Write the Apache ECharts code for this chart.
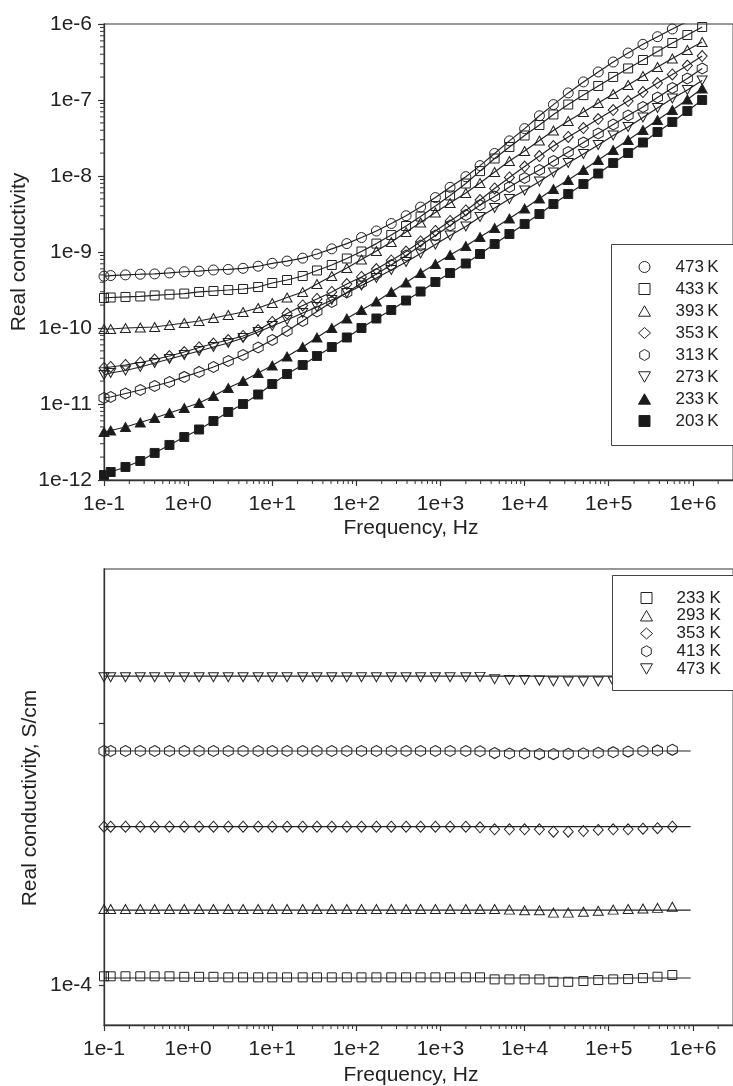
<!DOCTYPE html>
<html>
<head>
<meta charset="utf-8">
<title>Real conductivity vs frequency</title>
<script src="https://cdn.jsdelivr.net/npm/echarts@6.0.0/dist/echarts.min.js"></script>
<style>
html,body{margin:0;padding:0;background:#ffffff;}
#chart{width:733px;height:1086px;}
</style>
</head>
<body>
<div id="chart"></div>
<script>
// ---------------- DATA ----------------
// Frequencies (Hz) of the measured points
const freqTop = [0.1, 0.12, 0.18, 0.27, 0.4, 0.6, 0.9, 1.35, 2, 3, 4.5, 6.8, 10, 15, 23, 34, 51, 77, 115, 173, 260, 390, 580, 870, 1300, 2000, 2950, 4400, 6600, 10000, 15000, 22000, 33000, 50000, 75000, 113000, 170000, 255000, 380000, 570000, 860000, 1290000];
const freqBottom = [0.1, 0.12, 0.18, 0.27, 0.4, 0.6, 0.9, 1.35, 2, 3, 4.5, 6.8, 10, 15, 23, 34, 51, 77, 115, 173, 260, 390, 580, 870, 1300, 2000, 2950, 4400, 6600, 10000, 15000, 22000, 33000, 50000, 75000, 113000, 170000, 255000, 380000, 570000];

// Top panel: real conductivity per temperature
const topLabels = ['473\u2009K', '433\u2009K', '393\u2009K', '353\u2009K', '313\u2009K', '273\u2009K', '233\u2009K', '203\u2009K'];
const c473 = [4.8e-10, 4.9e-10, 5.0e-10, 5.1e-10, 5.15e-10, 5.3e-10, 5.5e-10, 5.6e-10, 5.8e-10, 5.9e-10, 6.1e-10, 6.5e-10, 7.1e-10, 7.6e-10, 8.3e-10, 9.4e-10, 1.1e-9, 1.29e-9, 1.55e-9, 1.89e-9, 2.37e-9, 3.0e-9, 3.9e-9, 5.2e-9, 7.1e-9, 9.8e-9, 1.37e-8, 1.98e-8, 2.9e-8, 4.2e-8, 6.2e-8, 8.7e-8, 1.24e-7, 1.73e-7, 2.34e-7, 3.16e-7, 4.15e-7, 5.4e-7, 6.8e-7, 8.6e-7, 1.08e-6, 1.33e-6];
const c433 = [2.48e-10, 2.52e-10, 2.56e-10, 2.60e-10, 2.68e-10, 2.76e-10, 2.84e-10, 2.98e-10, 3.07e-10, 3.16e-10, 3.26e-10, 3.46e-10, 3.91e-10, 4.28e-10, 4.83e-10, 5.71e-10, 6.75e-10, 8.21e-10, 1.015e-9, 1.29e-9, 1.67e-9, 2.20e-9, 2.93e-9, 4.03e-9, 5.54e-9, 7.96e-9, 1.16e-8, 1.70e-8, 2.41e-8, 3.41e-8, 4.69e-8, 6.45e-8, 8.72e-8, 1.16e-7, 1.53e-7, 2.01e-7, 2.60e-7, 3.36e-7, 4.35e-7, 5.62e-7, 7.17e-7, 9.13e-7];
const c393 = [9.70e-11, 9.70e-11, 1.0e-10, 1.015e-10, 1.03e-10, 1.095e-10, 1.163e-10, 1.236e-10, 1.354e-10, 1.483e-10, 1.623e-10, 1.833e-10, 2.13e-10, 2.52e-10, 2.98e-10, 3.79e-10, 4.83e-10, 6.16e-10, 7.96e-10, 1.03e-9, 1.354e-9, 1.833e-9, 2.44e-9, 3.31e-9, 4.41e-9, 5.97e-9, 8.09e-9, 1.13e-8, 1.575e-8, 2.13e-8, 2.93e-8, 3.97e-8, 5.29e-8, 6.95e-8, 9.13e-8, 1.20e-7, 1.575e-7, 2.07e-7, 2.72e-7, 3.52e-7, 4.55e-7, 5.80e-7];
const c353 = [2.98e-11, 3.07e-11, 3.26e-11, 3.52e-11, 3.85e-11, 4.28e-11, 4.83e-11, 5.54e-11, 6.25e-11, 6.95e-11, 7.85e-11, 9.41e-11, 1.20e-10, 1.55e-10, 1.98e-10, 2.41e-10, 2.98e-10, 3.79e-10, 4.69e-10, 5.97e-10, 7.73e-10, 1.015e-9, 1.375e-9, 1.89e-9, 2.56e-9, 3.52e-9, 4.83e-9, 6.85e-9, 9.56e-9, 1.33e-8, 1.83e-8, 2.48e-8, 3.26e-8, 4.28e-8, 5.62e-8, 7.38e-8, 9.70e-8, 1.27e-7, 1.67e-7, 2.17e-7, 2.84e-7, 3.79e-7];
const c313 = [1.20e-11, 1.236e-11, 1.375e-11, 1.528e-11, 1.725e-11, 1.948e-11, 2.27e-11, 2.64e-11, 3.07e-11, 3.68e-11, 4.41e-11, 5.54e-11, 6.95e-11, 9.13e-11, 1.236e-10, 1.648e-10, 2.20e-10, 2.93e-10, 3.91e-10, 5.14e-10, 6.75e-10, 8.99e-10, 1.218e-9, 1.648e-9, 2.23e-9, 3.07e-9, 4.15e-9, 5.37e-9, 7.17e-9, 9.41e-9, 1.20e-8, 1.575e-8, 2.07e-8, 2.76e-8, 3.62e-8, 4.76e-8, 6.25e-8, 8.09e-8, 1.078e-7, 1.438e-7, 1.918e-7, 2.60e-7];
const c273 = [2.41e-11, 2.56e-11, 2.76e-11, 3.07e-11, 3.46e-11, 3.91e-11, 4.41e-11, 4.98e-11, 5.62e-11, 6.35e-11, 7.38e-11, 8.86e-11, 1.062e-10, 1.274e-10, 1.575e-10, 1.89e-10, 2.34e-10, 2.89e-10, 3.62e-10, 4.55e-10, 5.80e-10, 7.38e-10, 9.56e-10, 1.256e-9, 1.648e-9, 2.17e-9, 2.89e-9, 3.79e-9, 4.98e-9, 6.45e-9, 8.46e-9, 1.112e-8, 1.483e-8, 1.948e-8, 2.56e-8, 3.41e-8, 4.41e-8, 5.88e-8, 7.85e-8, 1.046e-7, 1.354e-7, 1.805e-7];
const c233 = [4.28e-12, 4.48e-12, 4.98e-12, 5.71e-12, 6.54e-12, 7.61e-12, 8.86e-12, 1.03e-11, 1.274e-11, 1.623e-11, 2.01e-11, 2.56e-11, 3.21e-11, 4.22e-11, 5.62e-11, 7.50e-11, 1.0e-10, 1.334e-10, 1.725e-10, 2.23e-10, 2.98e-10, 3.97e-10, 5.29e-10, 6.95e-10, 9.13e-10, 1.20e-9, 1.575e-9, 2.07e-9, 2.76e-9, 3.73e-9, 5.06e-9, 6.75e-9, 8.86e-9, 1.20e-8, 1.623e-8, 2.20e-8, 2.98e-8, 4.03e-8, 5.45e-8, 7.38e-8, 1.015e-7, 1.417e-7];
const c203 = [1.163e-12, 1.274e-12, 1.483e-12, 1.778e-12, 2.27e-12, 2.89e-12, 3.68e-12, 4.62e-12, 5.97e-12, 7.85e-12, 1.0e-11, 1.334e-11, 1.833e-11, 2.48e-11, 3.26e-11, 4.28e-11, 5.62e-11, 7.50e-11, 1.0e-10, 1.334e-10, 1.725e-10, 2.30e-10, 3.02e-10, 4.03e-10, 5.29e-10, 7.06e-10, 9.41e-10, 1.274e-9, 1.725e-9, 2.34e-9, 3.16e-9, 4.28e-9, 5.80e-9, 7.85e-9, 1.078e-8, 1.483e-8, 2.01e-8, 2.76e-8, 3.79e-8, 5.14e-8, 7.17e-8, 1.0e-7];

// Bottom panel: real conductivity (S/cm) per temperature
const bottomLabels = ['233 K', '293 K', '353 K', '413 K', '473 K'];
const b233 = [1.08e-4, 1.08e-4, 1.08e-4, 1.08e-4, 1.08e-4, 1.08e-4, 1.075e-4, 1.075e-4, 1.075e-4, 1.07e-4, 1.07e-4, 1.07e-4, 1.07e-4, 1.07e-4, 1.07e-4, 1.07e-4, 1.07e-4, 1.07e-4, 1.07e-4, 1.07e-4, 1.07e-4, 1.07e-4, 1.07e-4, 1.07e-4, 1.07e-4, 1.07e-4, 1.07e-4, 1.051e-4, 1.051e-4, 1.051e-4, 1.051e-4, 1.029e-4, 1.029e-4, 1.036e-4, 1.045e-4, 1.051e-4, 1.054e-4, 1.063e-4, 1.076e-4, 1.092e-4];
const b293 = [1.95e-4, 1.95e-4, 1.95e-4, 1.95e-4, 1.95e-4, 1.95e-4, 1.95e-4, 1.95e-4, 1.95e-4, 1.95e-4, 1.95e-4, 1.95e-4, 1.95e-4, 1.95e-4, 1.95e-4, 1.95e-4, 1.95e-4, 1.95e-4, 1.95e-4, 1.95e-4, 1.95e-4, 1.95e-4, 1.95e-4, 1.95e-4, 1.95e-4, 1.95e-4, 1.95e-4, 1.95e-4, 1.94e-4, 1.93e-4, 1.93e-4, 1.89e-4, 1.89e-4, 1.905e-4, 1.92e-4, 1.94e-4, 1.95e-4, 1.96e-4, 1.97e-4, 1.99e-4];
const b353 = [4.02e-4, 4.02e-4, 4.02e-4, 4.02e-4, 4.02e-4, 4.02e-4, 4.02e-4, 4.02e-4, 4.02e-4, 4.02e-4, 4.02e-4, 4.02e-4, 4.02e-4, 4.02e-4, 4.02e-4, 4.02e-4, 4.02e-4, 4.02e-4, 4.02e-4, 4.02e-4, 4.02e-4, 4.02e-4, 4.02e-4, 4.02e-4, 4.02e-4, 4.02e-4, 4.0e-4, 3.93e-4, 3.93e-4, 3.93e-4, 3.93e-4, 3.85e-4, 3.85e-4, 3.87e-4, 3.91e-4, 3.93e-4, 3.93e-4, 3.95e-4, 3.97e-4, 4.02e-4];
const b413 = [7.82e-4, 7.82e-4, 7.82e-4, 7.82e-4, 7.82e-4, 7.82e-4, 7.82e-4, 7.82e-4, 7.82e-4, 7.82e-4, 7.82e-4, 7.82e-4, 7.82e-4, 7.82e-4, 7.82e-4, 7.82e-4, 7.82e-4, 7.82e-4, 7.82e-4, 7.82e-4, 7.82e-4, 7.82e-4, 7.82e-4, 7.82e-4, 7.82e-4, 7.82e-4, 7.80e-4, 7.68e-4, 7.65e-4, 7.65e-4, 7.61e-4, 7.61e-4, 7.63e-4, 7.66e-4, 7.70e-4, 7.74e-4, 7.78e-4, 7.82e-4, 7.86e-4, 7.90e-4];
const b473 = [1.495e-3, 1.495e-3, 1.495e-3, 1.495e-3, 1.495e-3, 1.495e-3, 1.495e-3, 1.495e-3, 1.495e-3, 1.495e-3, 1.495e-3, 1.495e-3, 1.495e-3, 1.495e-3, 1.495e-3, 1.495e-3, 1.495e-3, 1.495e-3, 1.495e-3, 1.495e-3, 1.495e-3, 1.495e-3, 1.495e-3, 1.495e-3, 1.495e-3, 1.495e-3, 1.50e-3, 1.469e-3, 1.459e-3, 1.459e-3, 1.452e-3, 1.44e-3, 1.44e-3, 1.44e-3, 1.44e-3, 1.44e-3, 1.45e-3, 1.46e-3, 1.47e-3, 1.48e-3];
// Fitted (constant) levels drawn as solid lines in the bottom panel
const fitLevels = [1.064e-4, 1.932e-4, 4.02e-4, 7.82e-4, 1.511e-3];
const fitFreqRange = [0.1, 940000];

// Axis ranges / ticks
const xMin = 0.1, xMax = 3e6;
const topYMin = 1e-12, topYMax = 1e-6;
const botYMin = 7.04e-5, botYMax = 3.87e-3;
const xDecades = [0.1, 1, 10, 100, 1000, 10000, 100000, 1000000];
const topYDecades = [1e-12, 1e-11, 1e-10, 1e-9, 1e-8, 1e-7];
const botYLabelValues = [1e-4];

// ---------------- CHART ----------------
const FONT = "'Liberation Sans', Arial, Helvetica, sans-serif";
const INK = '#222';

const SYM = {
  circle:   { s: 'circle', l: 'circle', size: 10 },
  square:   { s: 'rect', l: 'path://M0,0H10V10H0Z', size: 9 },
  triangle: { s: 'triangle', l: 'path://M5,0L10,8.7L0,8.7Z', size: [10, 9] },
  diamond:  { s: 'diamond', l: 'path://M6,0L12,5.5L6,11L0,5.5Z', size: [10, 11] },
  hexagon:  { s: 'path://M5,0L9.33,2.5L9.33,7.5L5,10L0.67,7.5L0.67,2.5Z', l: 'path://M5,0L9.33,2.5L9.33,7.5L5,10L0.67,7.5L0.67,2.5Z', size: [10, 11] },
  downTri:  { s: 'path://M0,0L10,0L5,8.7Z', l: 'path://M0,0L10,0L5,8.7Z', size: [10, 9] }
};
const OPEN = 'rgba(0,0,0,0)';
const FILL = '#1a1a1a';

const topValues = [c473, c433, c393, c353, c313, c273, c233, c203];
const topSyms = [
  [SYM.circle, OPEN], [SYM.square, OPEN], [SYM.triangle, OPEN], [SYM.diamond, OPEN],
  [SYM.hexagon, OPEN], [SYM.downTri, OPEN], [SYM.triangle, FILL], [SYM.square, FILL]
];
const bottomValues = [b233, b293, b353, b413, b473];
const bottomSyms = [[SYM.square, OPEN], [SYM.triangle, OPEN], [SYM.diamond, OPEN], [SYM.hexagon, OPEN], [SYM.downTri, OPEN]];

function expLabel(v) {
  const e = Math.log10(v);
  const r = Math.round(e);
  if (Math.abs(e - r) > 1e-6) return '';
  return '1e' + (r >= 0 ? '+' : '-') + Math.abs(r);
}

const labelStyle = { fontFamily: FONT, fontSize: 21, color: INK };

function xAxis(gridIndex) {
  return {
    type: 'log', logBase: 10, gridIndex: gridIndex, min: xMin, max: xMax, position: 'bottom',
    axisLine: { show: true, lineStyle: { color: '#333', width: 1.3 } },
    axisTick: { show: true, inside: false, length: 6, lineStyle: { color: '#333', width: 1.2 } },
    axisLabel: Object.assign({ margin: 14, formatter: expLabel, showMaxLabel: false }, labelStyle),
    splitLine: { show: false }, minorTick: { show: false }
  };
}

const minorX = [];
xDecades.forEach(function (d) { for (let k = 2; k <= 9; k++) { const v = d * k; if (v < xMax) minorX.push(v); } });
const minorTopY = [];
topYDecades.forEach(function (d) { for (let k = 2; k <= 9; k++) minorTopY.push(d * k); });

function minorTicks(xi, yi, values, dir, yBase) {
  return {
    type: 'custom', xAxisIndex: xi, yAxisIndex: yi, silent: true, clip: false, z: 5,
    data: values.map(function (v) { return dir === 'x' ? [v, yBase] : [xMin, v]; }),
    renderItem: function (params, api) {
      const p = api.coord([api.value(0), api.value(1)]);
      const shape = dir === 'x'
        ? { x1: p[0], y1: p[1], x2: p[0], y2: p[1] + 4 }
        : { x1: p[0] - 4, y1: p[1], x2: p[0], y2: p[1] };
      return { type: 'line', shape: shape, style: { stroke: '#333', lineWidth: 1 } };
    }
  };
}

const series = [];
topValues.forEach(function (vals, i) {
  const sym = topSyms[i][0], fill = topSyms[i][1];
  series.push({
    type: 'line', name: topLabels[i], xAxisIndex: 0, yAxisIndex: 0,
    data: freqTop.map(function (f, j) { return [f, vals[j]]; }),
    symbol: sym.s, symbolSize: sym.size, showSymbol: true, showAllSymbol: true,
    itemStyle: { color: fill, borderColor: INK, borderWidth: 1 },
    lineStyle: { color: INK, width: 1.2 },
    emphasis: { disabled: true }, z: 2
  });
});
bottomValues.forEach(function (vals, i) {
  series.push({
    type: 'line', name: 'fit ' + bottomLabels[i], xAxisIndex: 1, yAxisIndex: 1,
    data: fitFreqRange.map(function (f) { return [f, fitLevels[i]]; }),
    showSymbol: false, lineStyle: { color: INK, width: 1.2 }, emphasis: { disabled: true }, z: 2
  });
});
bottomValues.forEach(function (vals, i) {
  const sym = bottomSyms[i][0], fill = bottomSyms[i][1];
  series.push({
    type: 'scatter', name: bottomLabels[i], xAxisIndex: 1, yAxisIndex: 1,
    data: freqBottom.map(function (f, j) { return [f, vals[j]]; }),
    symbol: sym.s, symbolSize: sym.size,
    itemStyle: { color: fill, borderColor: INK, borderWidth: 1, opacity: 1 },
    emphasis: { disabled: true }, z: 2
  });
});
series.push(minorTicks(0, 0, minorX, 'x', topYMin));
series.push(minorTicks(0, 0, minorTopY, 'y'));
series.push(minorTicks(1, 1, minorX, 'x', botYMin));

function legendData(labels, syms) {
  return labels.map(function (name, i) {
    const sym = syms[i][0], fill = syms[i][1];
    return { name: name, icon: sym.l, itemStyle: { color: fill, borderColor: INK, borderWidth: 1 } };
  });
}

const option = {
  animation: false,
  backgroundColor: '#ffffff',
  grid: [
    { left: 104, top: 24, width: 630, height: 456, show: true, borderColor: '#777', borderWidth: 1.3, backgroundColor: 'transparent' },
    { left: 104, top: 569, width: 630, height: 456, show: true, borderColor: '#777', borderWidth: 1.3, backgroundColor: 'transparent' }
  ],
  xAxis: [xAxis(0), xAxis(1)],
  yAxis: [
    {
      type: 'log', logBase: 10, gridIndex: 0, min: topYMin, max: topYMax, position: 'left',
      axisLine: { show: true, lineStyle: { color: '#333', width: 1.3 } },
      axisTick: { show: true, inside: false, length: 6, lineStyle: { color: '#333', width: 1.2 } },
      axisLabel: Object.assign({ margin: 12, formatter: expLabel }, labelStyle),
      splitLine: { show: false }
    },
    {
      type: 'log', logBase: 10, gridIndex: 1, min: botYMin, max: botYMax, position: 'left',
      axisLine: { show: true, lineStyle: { color: '#333', width: 1.3 } },
      axisTick: { show: true, inside: false, length: 5, lineStyle: { color: '#333', width: 1.2 } },
      axisLabel: Object.assign({
        margin: 12, showMinLabel: false, showMaxLabel: false,
        formatter: function (v) {
          const lbl = expLabel(v);
          return botYLabelValues.some(function (b) { return Math.abs(Math.log10(b) - Math.log10(v)) < 1e-6; }) ? lbl : '';
        }
      }, labelStyle),
      splitLine: { show: false }
    }
  ],
  legend: [
    {
      orient: 'vertical', left: 638, top: 258.5, selectedMode: false, z: 6,
      itemWidth: 12, itemHeight: 11, itemGap: 5, padding: 0,
      backgroundColor: 'transparent', borderWidth: 0,
      textStyle: { fontFamily: FONT, fontSize: 17, color: INK, padding: [0, 0, 0, 20] },
      data: legendData(topLabels, topSyms)
    },
    {
      orient: 'vertical', left: 640, top: 589.5, selectedMode: false, z: 6,
      itemWidth: 12, itemHeight: 11, itemGap: 0.75, padding: 0,
      backgroundColor: 'transparent', borderWidth: 0,
      textStyle: { fontFamily: FONT, fontSize: 17, color: INK, padding: [0, 0, 0, 19] },
      data: legendData(bottomLabels, bottomSyms)
    }
  ],
  graphic: [
    { type: 'rect', z: 4, shape: { x: 611.5, y: 244.5, width: 160, height: 201 }, style: { fill: '#ffffff', stroke: '#444', lineWidth: 1 } },
    { type: 'rect', z: 4, shape: { x: 612.5, y: 575.5, width: 160, height: 115 }, style: { fill: '#ffffff', stroke: '#444', lineWidth: 1 } },
    { type: 'text', x: 19, y: 252, rotation: Math.PI / 2, style: { text: 'Real conductivity', font: '21px ' + FONT, fill: INK, align: 'center', verticalAlign: 'middle' } },
    { type: 'text', x: 411, y: 528, style: { text: 'Frequency, Hz', font: '21px ' + FONT, fill: INK, align: 'center', verticalAlign: 'middle' } },
    { type: 'text', x: 30, y: 798, rotation: Math.PI / 2, style: { text: 'Real conductivity, S/cm', font: '21px ' + FONT, fill: INK, align: 'center', verticalAlign: 'middle' } },
    { type: 'text', x: 411, y: 1075, style: { text: 'Frequency, Hz', font: '21px ' + FONT, fill: INK, align: 'center', verticalAlign: 'middle' } }
  ],
  series: series
};

const chart = echarts.init(document.getElementById('chart'), null, { renderer: 'canvas', width: 733, height: 1086 });
chart.setOption(option);
</script>
</body>
</html>
